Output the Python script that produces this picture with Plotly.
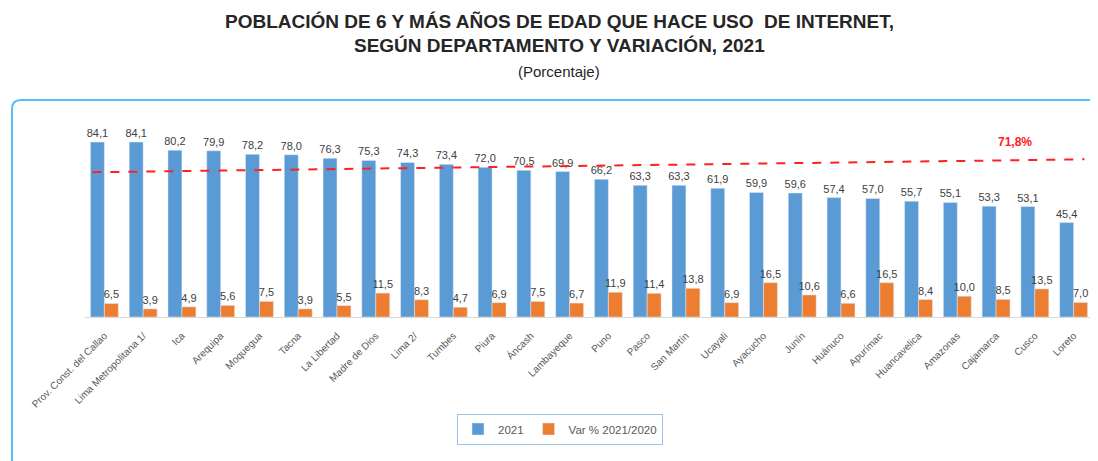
import plotly.graph_objects as go

# datos
departamentos = [
    "Prov. Const. del Callao", "Lima Metropolitana 1/", "Ica", "Arequipa", "Moquegua",
    "Tacna", "La Libertad", "Madre de Dios", "Lima 2/", "Tumbes", "Piura", "Áncash",
    "Lambayeque", "Puno", "Pasco", "San Martín", "Ucayali", "Ayacucho", "Junín",
    "Huánuco", "Apurímac", "Huancavelica", "Amazonas", "Cajamarca", "Cusco", "Loreto",
]
uso_2021 = [84.1, 84.1, 80.2, 79.9, 78.2, 78.0, 76.3, 75.3, 74.3, 73.4, 72.0, 70.5, 69.9,
            66.2, 63.3, 63.3, 61.9, 59.9, 59.6, 57.4, 57.0, 55.7, 55.1, 53.3, 53.1, 45.4]
var_2021_2020 = [6.5, 3.9, 4.9, 5.6, 7.5, 3.9, 5.5, 11.5, 8.3, 4.7, 6.9, 7.5, 6.7,
                 11.9, 11.4, 13.8, 6.9, 16.5, 10.6, 6.6, 16.5, 8.4, 10.0, 8.5, 13.5, 7.0]
promedio_nacional = 71.8

# la página html tiene 8px de margen en el body: todo se corre 8px
OFF = 8
W, H = 1098 - OFF, 461 - OFF
ml, mr, mt, mb = 85 - OFF, 5, 109 - OFF, 144
pw, ph = W - ml - mr, H - mt - mb

def px(x):
    return (x - OFF - ml) / pw

def py(y):
    return (H - mb - (y - OFF)) / ph

azul = '#5B9BD5'
naranja = '#ED7D31'

fig = go.Figure()
fig.add_trace(go.Bar(
    x=departamentos, y=uso_2021, name='2021', marker_color=azul,
    texttemplate='%{y:.1f}', textposition='outside', constraintext='none',
    textfont=dict(size=11, color='#404040'), cliponaxis=False,
))
fig.add_trace(go.Bar(
    x=departamentos, y=var_2021_2020, name='Var % 2021/2020', marker_color=naranja,
    texttemplate='%{y:.1f}', textposition='outside', constraintext='none',
    textfont=dict(size=11, color='#404040'), cliponaxis=False,
))

# línea del promedio nacional (inclinada como en el original)
fig.add_shape(type='line', xref='x', yref='y', x0=-0.31, x1=25.28, y0=69.6, y1=75.8,
              line=dict(color='#FF2020', width=2, dash='dash'))
fig.add_annotation(xref='x', yref='y', x=23.5, y=84.2,
                   text=f'<b>{promedio_nacional:.1f}%'.replace('.', ',') + '</b>',
                   showarrow=False, font=dict(size=12, color='#FF2020'))

# marco redondeado
x0, y0, r = px(12), py(100), 9
path = (f'M {x0},{py(470)} L {x0},{py(100 + r)} '
        f'Q {x0},{y0} {px(12 + r)},{y0} L {px(1110)},{y0}')
fig.add_shape(type='path', xref='paper', yref='paper', path=path,
              line=dict(color='#4FC3F7', width=2))

titulo_font = 'Liberation Sans Narrow, Arial Narrow, Liberation Sans'
titulos = [
    ('<b>POBLACIÓN DE 6 Y MÁS AÑOS DE EDAD QUE HACE USO  DE INTERNET,</b>', 22, 19),
    ('<b>SEGÚN DEPARTAMENTO Y VARIACIÓN, 2021</b>', 45, 19),
    ('(Porcentaje)', 71, 15),
]
for txt, yy, size in titulos:
    fig.add_annotation(xref='paper', yref='paper', x=px(559), y=py(yy),
                       xanchor='center', yanchor='middle', text=txt, showarrow=False,
                       font=dict(family=titulo_font, size=size, color='#262626'))

fig.update_layout(
    width=W, height=H,
    margin=dict(l=ml, r=mr, t=mt, b=mb),
    paper_bgcolor='white', plot_bgcolor='white',
    barmode='group', bargap=0.28, bargroupgap=0,
    separators=',.',
    font=dict(family='Liberation Sans, Arial', color='#595959'),
    showlegend=True,
    legend=dict(orientation='h', xref='paper', yref='paper', x=px(560), y=py(429),
                xanchor='center', yanchor='middle', bordercolor='#9DC3E6', borderwidth=1,
                font=dict(size=11.5, color='#595959'), itemwidth=30),
)
fig.update_xaxes(tickangle=-45, tickfont=dict(size=10, color='#595959'), automargin=False,
                 ticklabelstandoff=8,
                 showline=True, linecolor='#D9D9D9', ticks='', showgrid=False)
fig.update_yaxes(range=[0, 100], visible=False, showgrid=False, automargin=False)

fig.write_html('out.html')
